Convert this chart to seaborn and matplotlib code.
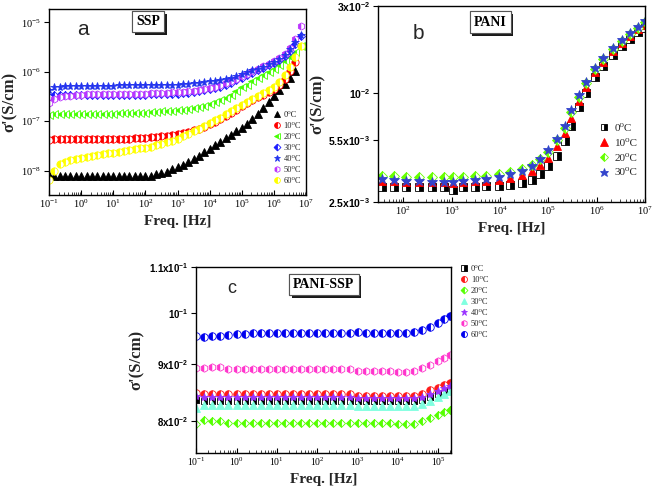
import matplotlib
matplotlib.use('Agg')
import matplotlib.pyplot as plt
import matplotlib.ticker as mticker
import matplotlib.patheffects as pe
import seaborn as sns

# ---------------- panel a : SSP ----------------
freq_a = [0.1, 0.147, 0.215, 0.316, 0.464, 0.681,
          1, 1.47, 2.15, 3.16, 4.64, 6.81,
          10, 14.7, 21.5, 31.6, 46.4, 68.1,
          100, 147, 215, 316, 464, 681,
          1e3, 1.47e3, 2.15e3, 3.16e3, 4.64e3, 6.81e3,
          1e4, 1.47e4, 2.15e4, 3.16e4, 4.64e4, 6.81e4,
          1e5, 1.47e5, 2.15e5, 3.16e5, 4.64e5, 6.81e5,
          1e6, 1.47e6, 2.15e6, 3.16e6, 4.64e6, 6.81e6]

ssp_0C = [8.2e-9, 7.8e-9, 7.7e-9, 7.8e-9, 7.7e-9, 7.8e-9, 7.7e-9,
          7.8e-9, 7.8e-9, 7.7e-9, 7.8e-9, 7.8e-9, 7.8e-9,
          7.7e-9, 7.8e-9, 7.8e-9, 7.8e-9, 7.8e-9, 7.8e-9,
          7.9e-9, 8.3e-9, 8.7e-9, 9.3e-9, 1.05e-8, 1.17e-8,
          1.32e-8, 1.51e-8, 1.74e-8, 2.0e-8, 2.34e-8, 2.75e-8,
          3.24e-8, 3.8e-8, 4.47e-8, 5.25e-8, 6.17e-8, 7.41e-8,
          8.9e-8, 1.10e-7, 1.41e-7, 1.82e-7, 2.4e-7, 3.16e-7,
          4.17e-7, 5.62e-7, 7.6e-7, 1.05e-6]
ssp_10C = [4.17e-8, 4.27e-8, 4.27e-8, 4.27e-8, 4.27e-8, 4.27e-8, 4.27e-8,
           4.27e-8, 4.27e-8, 4.27e-8, 4.27e-8, 4.27e-8, 4.27e-8,
           4.27e-8, 4.37e-8, 4.37e-8, 4.47e-8, 4.47e-8, 4.57e-8,
           4.68e-8, 4.79e-8, 4.9e-8, 5.01e-8, 5.13e-8, 5.37e-8,
           5.62e-8, 6.03e-8, 6.46e-8, 7.08e-8, 7.76e-8, 8.71e-8,
           9.77e-8, 1.12e-7, 1.29e-7, 1.48e-7, 1.70e-7, 2.0e-7,
           2.29e-7, 2.63e-7, 3.02e-7, 3.39e-7, 3.89e-7, 4.37e-7,
           5.5e-7, 7.08e-7, 1.05e-6, 1.58e-6]
ssp_20C = [1.35e-7, 1.38e-7, 1.38e-7, 1.38e-7, 1.38e-7, 1.38e-7, 1.38e-7,
           1.41e-7, 1.41e-7, 1.41e-7, 1.41e-7, 1.41e-7, 1.41e-7,
           1.48e-7, 1.48e-7, 1.48e-7, 1.48e-7, 1.48e-7, 1.48e-7,
           1.51e-7, 1.55e-7, 1.58e-7, 1.62e-7, 1.62e-7, 1.66e-7,
           1.70e-7, 1.78e-7, 1.86e-7, 1.95e-7, 2.04e-7, 2.19e-7,
           2.40e-7, 2.63e-7, 2.95e-7, 3.39e-7, 3.98e-7, 4.79e-7,
           5.5e-7, 6.46e-7, 7.41e-7, 8.51e-7, 9.77e-7, 1.12e-6,
           1.35e-6, 1.62e-6, 2.0e-6, 2.51e-6, 3.24e-6]
ssp_30C = [3.09e-7, 3.31e-7, 3.31e-7, 3.31e-7, 3.31e-7, 3.31e-7, 3.31e-7,
           3.31e-7, 3.31e-7, 3.31e-7, 3.31e-7, 3.31e-7, 3.31e-7,
           3.39e-7, 3.39e-7, 3.39e-7, 3.39e-7, 3.39e-7, 3.39e-7,
           3.55e-7, 3.55e-7, 3.55e-7, 3.55e-7, 3.55e-7, 3.55e-7,
           3.63e-7, 3.72e-7, 3.80e-7, 3.98e-7, 4.17e-7, 4.37e-7,
           4.68e-7, 5.01e-7, 5.5e-7, 6.03e-7, 6.76e-7, 7.59e-7,
           8.51e-7, 9.55e-7, 1.07e-6, 1.20e-6, 1.35e-6, 1.51e-6,
           1.74e-6, 2.09e-6, 2.63e-6, 3.63e-6, 5.25e-6]
ssp_40C = [4.27e-7, 4.79e-7, 5.01e-7, 5.13e-7, 5.13e-7, 5.13e-7, 5.13e-7,
           5.25e-7, 5.25e-7, 5.25e-7, 5.25e-7, 5.25e-7, 5.25e-7,
           5.37e-7, 5.37e-7, 5.37e-7, 5.37e-7, 5.37e-7, 5.37e-7,
           5.5e-7, 5.5e-7, 5.5e-7, 5.5e-7, 5.5e-7, 5.5e-7,
           5.62e-7, 5.75e-7, 5.89e-7, 6.03e-7, 6.31e-7, 6.46e-7,
           6.61e-7, 6.76e-7, 7.08e-7, 7.59e-7, 8.3e-7, 9.12e-7,
           9.77e-7, 1.07e-6, 1.15e-6, 1.26e-6, 1.41e-6, 1.58e-6,
           1.82e-6, 2.14e-6, 2.82e-6, 3.98e-6, 5.62e-6]
ssp_50C = [2.34e-7, 2.75e-7, 3.02e-7, 3.16e-7, 3.24e-7, 3.31e-7, 3.39e-7,
           3.47e-7, 3.47e-7, 3.47e-7, 3.47e-7, 3.47e-7, 3.47e-7,
           3.55e-7, 3.55e-7, 3.55e-7, 3.55e-7, 3.55e-7, 3.55e-7,
           3.63e-7, 3.63e-7, 3.72e-7, 3.72e-7, 3.80e-7, 3.80e-7,
           3.89e-7, 3.98e-7, 4.07e-7, 4.27e-7, 4.47e-7, 4.68e-7,
           5.01e-7, 5.37e-7, 5.89e-7, 6.46e-7, 7.24e-7, 8.13e-7,
           9.12e-7, 1.02e-6, 1.15e-6, 1.29e-6, 1.45e-6, 1.66e-6,
           1.91e-6, 2.29e-6, 3.02e-6, 4.57e-6, 8.32e-6]
ssp_60C = [6.31e-9, 1.0e-8, 1.38e-8, 1.51e-8, 1.62e-8, 1.74e-8, 1.82e-8,
           1.91e-8, 1.95e-8, 2.04e-8, 2.14e-8, 2.24e-8, 2.29e-8,
           2.40e-8, 2.45e-8, 2.57e-8, 2.69e-8, 2.82e-8, 2.88e-8,
           3.02e-8, 3.24e-8, 3.47e-8, 3.72e-8, 3.98e-8, 4.37e-8,
           4.90e-8, 5.50e-8, 6.17e-8, 6.92e-8, 7.94e-8, 9.33e-8,
           1.05e-7, 1.17e-7, 1.38e-7, 1.58e-7, 1.82e-7, 2.09e-7,
           2.40e-7, 2.75e-7, 3.16e-7, 3.63e-7, 4.17e-7, 4.90e-7,
           6.17e-7, 8.51e-7, 1.26e-6, 2.0e-6, 3.31e-6]

# ---------------- panel b : PANI ----------------
freq_b = [35.5, 64.6, 115, 209, 389, 692, 1070, 1740, 3020, 5250, 9550,
          1.62e4, 2.82e4, 4.57e4, 6.76e4, 1e5, 1.55e5, 2.19e5, 3.02e5,
          4.37e5, 6.17e5, 9.33e5, 1.38e6, 2.19e6, 3.31e6, 4.9e6, 7.24e6, 1e7]
pani_0C = [3.03e-3, 3.03e-3, 3.02e-3, 3.02e-3, 3.02e-3, 3.02e-3, 2.93e-3,
           3.03e-3, 3.04e-3, 3.05e-3, 3.08e-3, 3.12e-3, 3.2e-3, 3.3e-3,
           3.55e-3, 3.93e-3, 4.5e-3, 5.4e-3, 6.6e-3, 8.3e-3, 1.0e-2,
           1.22e-2, 1.4e-2, 1.62e-2, 1.8e-2, 1.98e-2, 2.15e-2, 2.27e-2]
pani_10C = [3.25e-3, 3.25e-3, 3.24e-3, 3.23e-3, 3.22e-3, 3.21e-3, 3.2e-3,
            3.22e-3, 3.25e-3, 3.28e-3, 3.33e-3, 3.4e-3, 3.52e-3, 3.7e-3,
            3.98e-3, 4.4e-3, 5.1e-3, 6.0e-3, 7.3e-3, 9.0e-3, 1.08e-2,
            1.3e-2, 1.48e-2, 1.7e-2, 1.88e-2, 2.06e-2, 2.24e-2, 2.37e-2]
pani_20C = [3.47e-3, 3.47e-3, 3.46e-3, 3.45e-3, 3.45e-3, 3.44e-3, 3.42e-3,
            3.45e-3, 3.47e-3, 3.5e-3, 3.56e-3, 3.65e-3, 3.8e-3, 4.0e-3,
            4.3e-3, 4.75e-3, 5.5e-3, 6.4e-3, 7.8e-3, 9.5e-3, 1.13e-2,
            1.35e-2, 1.53e-2, 1.75e-2, 1.93e-2, 2.1e-2, 2.28e-2, 2.45e-2]
pani_30C = [3.35e-3, 3.3e-3, 3.27e-3, 3.25e-3, 3.24e-3, 3.23e-3, 3.22e-3,
            3.25e-3, 3.3e-3, 3.35e-3, 3.43e-3, 3.55e-3, 3.7e-3, 3.95e-3,
            4.3e-3, 4.85e-3, 5.6e-3, 6.6e-3, 8.0e-3, 9.7e-3, 1.15e-2,
            1.37e-2, 1.55e-2, 1.77e-2, 1.95e-2, 2.12e-2, 2.3e-2, 2.48e-2]

# ---------------- panel c : PANI-SSP ----------------
freq_c = [0.1, 0.158, 0.251, 0.398, 0.631,
          1, 1.58, 2.51, 3.98, 6.31,
          10, 15.8, 25.1, 39.8, 63.1,
          100, 158, 251, 398, 631,
          1e3, 1.58e3, 2.51e3, 3.98e3, 6.31e3,
          1e4, 1.58e4, 2.51e4, 3.98e4, 6.31e4,
          1e5, 1.41e5, 2.0e5]
ps_0C = [0.0836, 0.0834, 0.0834, 0.0834, 0.0834, 0.0834, 0.0834, 0.0834,
         0.0834, 0.0834, 0.0834, 0.0834, 0.0834, 0.0834, 0.0834, 0.0834,
         0.0834, 0.0834, 0.0834, 0.0834, 0.0834, 0.0834, 0.0834, 0.0834,
         0.0834, 0.0834, 0.0834, 0.0834, 0.0836, 0.0841, 0.0846, 0.0851, 0.0855]
ps_10C = [0.0847, 0.0846, 0.0846, 0.0846, 0.0846, 0.0846, 0.0846, 0.0846,
          0.0846, 0.0846, 0.0846, 0.0845, 0.0845, 0.0845, 0.0845, 0.0845,
          0.0845, 0.0845, 0.0845, 0.0845, 0.0843, 0.0843, 0.0843, 0.0843,
          0.0843, 0.0843, 0.0843, 0.0843, 0.0846, 0.0852, 0.0857, 0.0862, 0.0866]
ps_20C = [0.0795, 0.0801, 0.0800, 0.0799, 0.0797, 0.0797, 0.0797, 0.0797,
          0.0797, 0.0797, 0.0797, 0.0797, 0.0797, 0.0797, 0.0797, 0.0796,
          0.0796, 0.0796, 0.0796, 0.0796, 0.0796, 0.0796, 0.0796, 0.0796,
          0.0796, 0.0795, 0.0795, 0.0795, 0.0799, 0.0804, 0.0809, 0.0814, 0.0819]
ps_30C = [0.0822, 0.0827, 0.0827, 0.0827, 0.0827, 0.0827, 0.0827, 0.0827,
          0.0827, 0.0827, 0.0827, 0.0827, 0.0827, 0.0827, 0.0827, 0.0827,
          0.0827, 0.0827, 0.0827, 0.0827, 0.0825, 0.0825, 0.0825, 0.0825,
          0.0825, 0.0825, 0.0825, 0.0825, 0.0828, 0.0834, 0.0840, 0.0846, 0.0851]
ps_40C = [0.0842, 0.0840, 0.0840, 0.0840, 0.0840, 0.0840, 0.0840, 0.0840,
          0.0840, 0.0840, 0.0840, 0.0840, 0.0840, 0.0840, 0.0840, 0.0840,
          0.0840, 0.0840, 0.0840, 0.0840, 0.0838, 0.0838, 0.0838, 0.0838,
          0.0838, 0.0838, 0.0838, 0.0838, 0.0841, 0.0846, 0.0851, 0.0856, 0.0860]
ps_50C = [0.0893, 0.0892, 0.0894, 0.0894, 0.0891, 0.0890, 0.0890, 0.0890,
          0.0890, 0.0890, 0.0890, 0.0890, 0.0890, 0.0890, 0.0890, 0.0890,
          0.0890, 0.0890, 0.0890, 0.0890, 0.0888, 0.0888, 0.0888, 0.0888,
          0.0888, 0.0886, 0.0886, 0.0888, 0.0892, 0.0898, 0.0906, 0.0912, 0.0918]
ps_60C = [0.0954, 0.0952, 0.0954, 0.0955, 0.0957, 0.0958, 0.0958, 0.0959,
          0.0959, 0.0959, 0.0959, 0.0959, 0.0959, 0.0959, 0.0959, 0.0959,
          0.0959, 0.0959, 0.0959, 0.0959, 0.0961, 0.0960, 0.0960, 0.0960,
          0.0960, 0.0960, 0.0960, 0.0961, 0.0965, 0.0972, 0.0981, 0.0988, 0.0994]

temps7 = ['0⁰C', '10⁰C', '20⁰C', '30⁰C', '40⁰C', '50⁰C', '60⁰C']
temps4 = ['0⁰C', '10⁰C', '20⁰C', '30⁰C']

sns.set_style('ticks')
plt.rcParams['font.family'] = ['Liberation Serif', 'DejaVu Serif']
plt.rcParams['mathtext.fontset'] = 'custom'
plt.rcParams['mathtext.rm'] = 'Liberation Sans:bold'
plt.rcParams['mathtext.it'] = 'Liberation Sans:bold'
plt.rcParams['mathtext.bf'] = 'Liberation Sans:bold'
plt.rcParams['axes.edgecolor'] = 'black'
plt.rcParams['axes.linewidth'] = 1.0

fig = plt.figure(figsize=(6.54, 4.98), dpi=100)
ax_a = fig.add_axes([0.075, 0.608, 0.393, 0.373])
ax_b = fig.add_axes([0.578, 0.594, 0.408, 0.394])
ax_c = fig.add_axes([0.300, 0.090, 0.390, 0.373])


def draw(ax, x, y, color, marker, label, ms, fill='left'):
    sns.lineplot(x=x[:len(y)], y=y, ax=ax, color=color, marker=marker, linestyle='',
                 markersize=ms, fillstyle=fill, markerfacecoloralt='white',
                 markeredgecolor=color, markeredgewidth=0.6, label=label,
                 errorbar=None, sort=False)


def boxed(ax, x, y, s, size):
    t = ax.text(x, y, s, transform=ax.transAxes, ha='center', va='center',
                fontsize=size, fontweight='bold', color='black',
                bbox=dict(boxstyle='square,pad=0.3', fc='white', ec='#555555', lw=0.8))
    t.get_bbox_patch().set_path_effects(
        [pe.withSimplePatchShadow(offset=(2, -2), shadow_rgbFace='black', alpha=0.9), pe.Normal()])


def style(ax, size):
    ax.set_xscale('log')
    ax.set_yscale('log')
    ax.tick_params(axis='both', which='major', labelsize=size, length=3.5, width=0.8,
                   colors='black', pad=2)
    ax.tick_params(axis='both', which='minor', length=2, width=0.6)
    ax.tick_params(axis='x', which='both', direction='in')
    ax.yaxis.set_minor_locator(mticker.NullLocator())
    ax.xaxis.set_minor_locator(mticker.LogLocator(base=10, subs=range(2, 10), numticks=20))
    for s in ax.spines.values():
        s.set_visible(True)
        s.set_color('black')


# panel a
ms_a = 5.2
draw(ax_a, freq_a, ssp_0C, 'black', '^', temps7[0], ms_a, 'full')
draw(ax_a, freq_a, ssp_10C, '#ff0000', 'o', temps7[1], ms_a)
draw(ax_a, freq_a, ssp_20C, '#44ff00', '<', temps7[2], ms_a)
draw(ax_a, freq_a, ssp_30C, '#1a1aff', 'D', temps7[3], ms_a - 0.8)
draw(ax_a, freq_a, ssp_50C, '#bb33ff', 'h', temps7[5], ms_a)
draw(ax_a, freq_a, ssp_40C, '#2233ee', '*', temps7[4], ms_a + 0.6, 'full')
draw(ax_a, freq_a, ssp_60C, '#ffff00', 'o', temps7[6], ms_a)
style(ax_a, 7.5)
ax_a.set_xlim(0.1, 1e7)
ax_a.set_ylim(3.16e-9, 1.82e-5)
ax_a.xaxis.set_major_locator(mticker.LogLocator(base=10, numticks=20))
ax_a.yaxis.set_major_locator(mticker.FixedLocator([1e-8, 1e-7, 1e-6, 1e-5]))
ax_a.set_xlabel('Freq. [Hz]', fontsize=11, fontweight='bold', labelpad=3)
ax_a.set_ylabel("σ'(S/cm)", fontsize=12, fontweight='bold', labelpad=3)
h, l = ax_a.get_legend_handles_labels()
order = [0, 1, 2, 3, 5, 4, 6]
ax_a.legend([h[i] for i in order], [l[i] for i in order], loc='upper left',
            bbox_to_anchor=(0.85, 0.475), frameon=False, fontsize=6,
            handletextpad=0.2, labelspacing=0.35, borderpad=0, handlelength=1.2,
            markerscale=0.8)
ax_a.text(0.13, 0.89, 'a', transform=ax_a.transAxes, fontsize=15,
          family='Liberation Sans', ha='center', va='center')
boxed(ax_a, 0.385, 0.935, 'SSP', 10)

# panel b
ms_b = 6.0
draw(ax_b, freq_b, pani_0C, 'black', 's', temps4[0], ms_b - 0.8, 'right')
draw(ax_b, freq_b, pani_10C, '#ff0000', '^', temps4[1], ms_b, 'full')
draw(ax_b, freq_b, pani_20C, '#66ff00', 'D', temps4[2], ms_b - 1.0)
draw(ax_b, freq_b, pani_30C, '#3344cc', '*', temps4[3], ms_b + 1.0, 'full')
style(ax_b, 7.5)
ax_b.set_xlim(30, 1e7)
ax_b.set_ylim(2.5e-3, 3e-2)
ax_b.xaxis.set_major_locator(mticker.LogLocator(base=10, numticks=20))
ax_b.yaxis.set_major_locator(mticker.FixedLocator([2.5e-3, 5.5e-3, 1e-2, 3e-2]))
ax_b.yaxis.set_major_formatter(mticker.FixedFormatter(
    [r'$2.5\mathrm{x}10^{-3}$', r'$5.5\mathrm{x}10^{-3}$', r'$10^{-2}$', r'$3\mathrm{x}10^{-2}$']))
ax_b.set_xlabel('Freq. [Hz]', fontsize=11, fontweight='bold', labelpad=3)
ax_b.set_ylabel("σ'(S/cm)", fontsize=12, fontweight='bold', labelpad=2)
ax_b.legend(loc='upper left', bbox_to_anchor=(0.8, 0.43), frameon=False, fontsize=8,
            handletextpad=0.4, labelspacing=0.45, borderpad=0, handlelength=1.2,
            markerscale=0.9)
ax_b.text(0.15, 0.86, 'b', transform=ax_b.transAxes, fontsize=15,
          family='Liberation Sans', ha='center', va='center')
boxed(ax_b, 0.42, 0.918, 'PANI', 10)

# panel c
ms_c = 5.4
draw(ax_c, freq_c, ps_0C, 'black', 's', temps7[0], ms_c - 0.8, 'right')
draw(ax_c, freq_c, ps_10C, '#ff1a1a', 'o', temps7[1], ms_c)
draw(ax_c, freq_c, ps_20C, '#55ff00', 'D', temps7[2], ms_c - 1.0)
draw(ax_c, freq_c, ps_30C, '#80ffe0', '^', temps7[3], ms_c, 'full')
draw(ax_c, freq_c, ps_40C, '#9933ff', '*', temps7[4], ms_c + 0.6, 'full')
draw(ax_c, freq_c, ps_50C, '#ff33cc', 'h', temps7[5], ms_c)
draw(ax_c, freq_c, ps_60C, '#0000ee', 'o', temps7[6], ms_c)
style(ax_c, 7)
ax_c.set_xlim(0.1, 2.1e5)
ax_c.set_ylim(0.0748, 0.11)
ax_c.xaxis.set_major_locator(mticker.LogLocator(base=10, numticks=20))
ax_c.yaxis.set_major_locator(mticker.FixedLocator([0.08, 0.09, 0.1, 0.11]))
ax_c.yaxis.set_major_formatter(mticker.FixedFormatter(
    [r'$8\mathrm{x}10^{-2}$', r'$9\mathrm{x}10^{-2}$', r'$10^{-1}$', r'$1.1\mathrm{x}10^{-1}$']))
ax_c.set_xlabel('Freq. [Hz]', fontsize=11, fontweight='bold', labelpad=3)
ax_c.set_ylabel("σ'(S/cm)", fontsize=12, fontweight='bold', labelpad=3)
ax_c.legend(loc='upper left', bbox_to_anchor=(1.015, 1.035), frameon=False, fontsize=6,
            handletextpad=0.2, labelspacing=0.35, borderpad=0, handlelength=1.2,
            markerscale=0.8)
ax_c.text(0.14, 0.887, 'c', transform=ax_c.transAxes, fontsize=13,
          family='Liberation Sans', ha='center', va='center')
boxed(ax_c, 0.50, 0.909, 'PANI-SSP', 10)

fig.savefig('out.png', dpi=100)
